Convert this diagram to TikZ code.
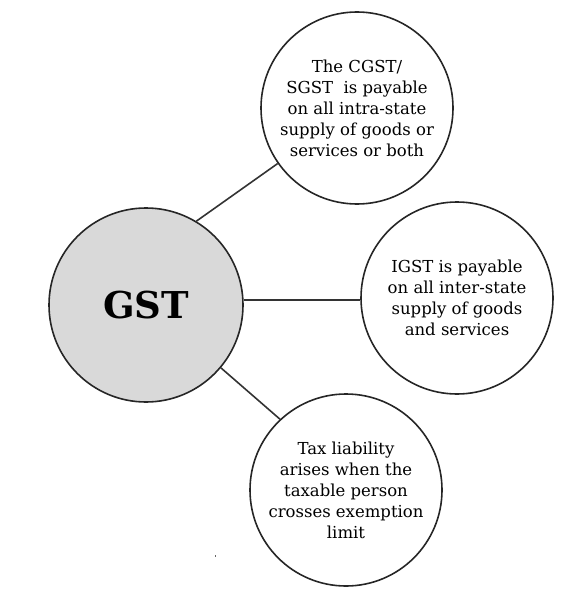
\documentclass[tikz,border=0pt]{standalone}
\usepackage{fontspec}
\setmainfont{DejaVu Serif}
\begin{document}
\begin{tikzpicture}[x=1pt,y=-1pt,
  bubble/.style={circle,draw=black!85,line width=1.6pt,minimum size=192pt,inner sep=0pt,
    align=center,font=\fontsize{16.5}{21}\selectfont},
  hub/.style={circle,draw=black!85,line width=1.6pt,fill=black!15,minimum size=194pt,inner sep=0pt,
    font=\fontsize{37}{44}\selectfont\bfseries},
  link/.style={draw=black!80,line width=1.6pt}]
\useasboundingbox (0,0) rectangle (571,599);
\node[hub] (gst) at (146,305) {GST};
\node[bubble] (cgst) at (357,108) {The CGST/\\SGST\ \ is payable\\on all intra-state\\supply of goods or\\services or both};
\node[bubble] (igst) at (457,298) {IGST is payable\\on all inter-state\\supply of goods\\and services};
\node[bubble] (tax) at (346,490) {Tax liability\\arises when the\\taxable person\\crosses exemption\\limit};
\draw[link] (gst.59.5) -- (cgst.215.7);
\draw[link] (gst.3.5) -- (igst.west |- gst.3.5);
\draw[link] (gst.-40.4) -- (tax.133);
\fill[black!60] (214.5,555) rectangle (216,556.5);
\end{tikzpicture}
\end{document}
